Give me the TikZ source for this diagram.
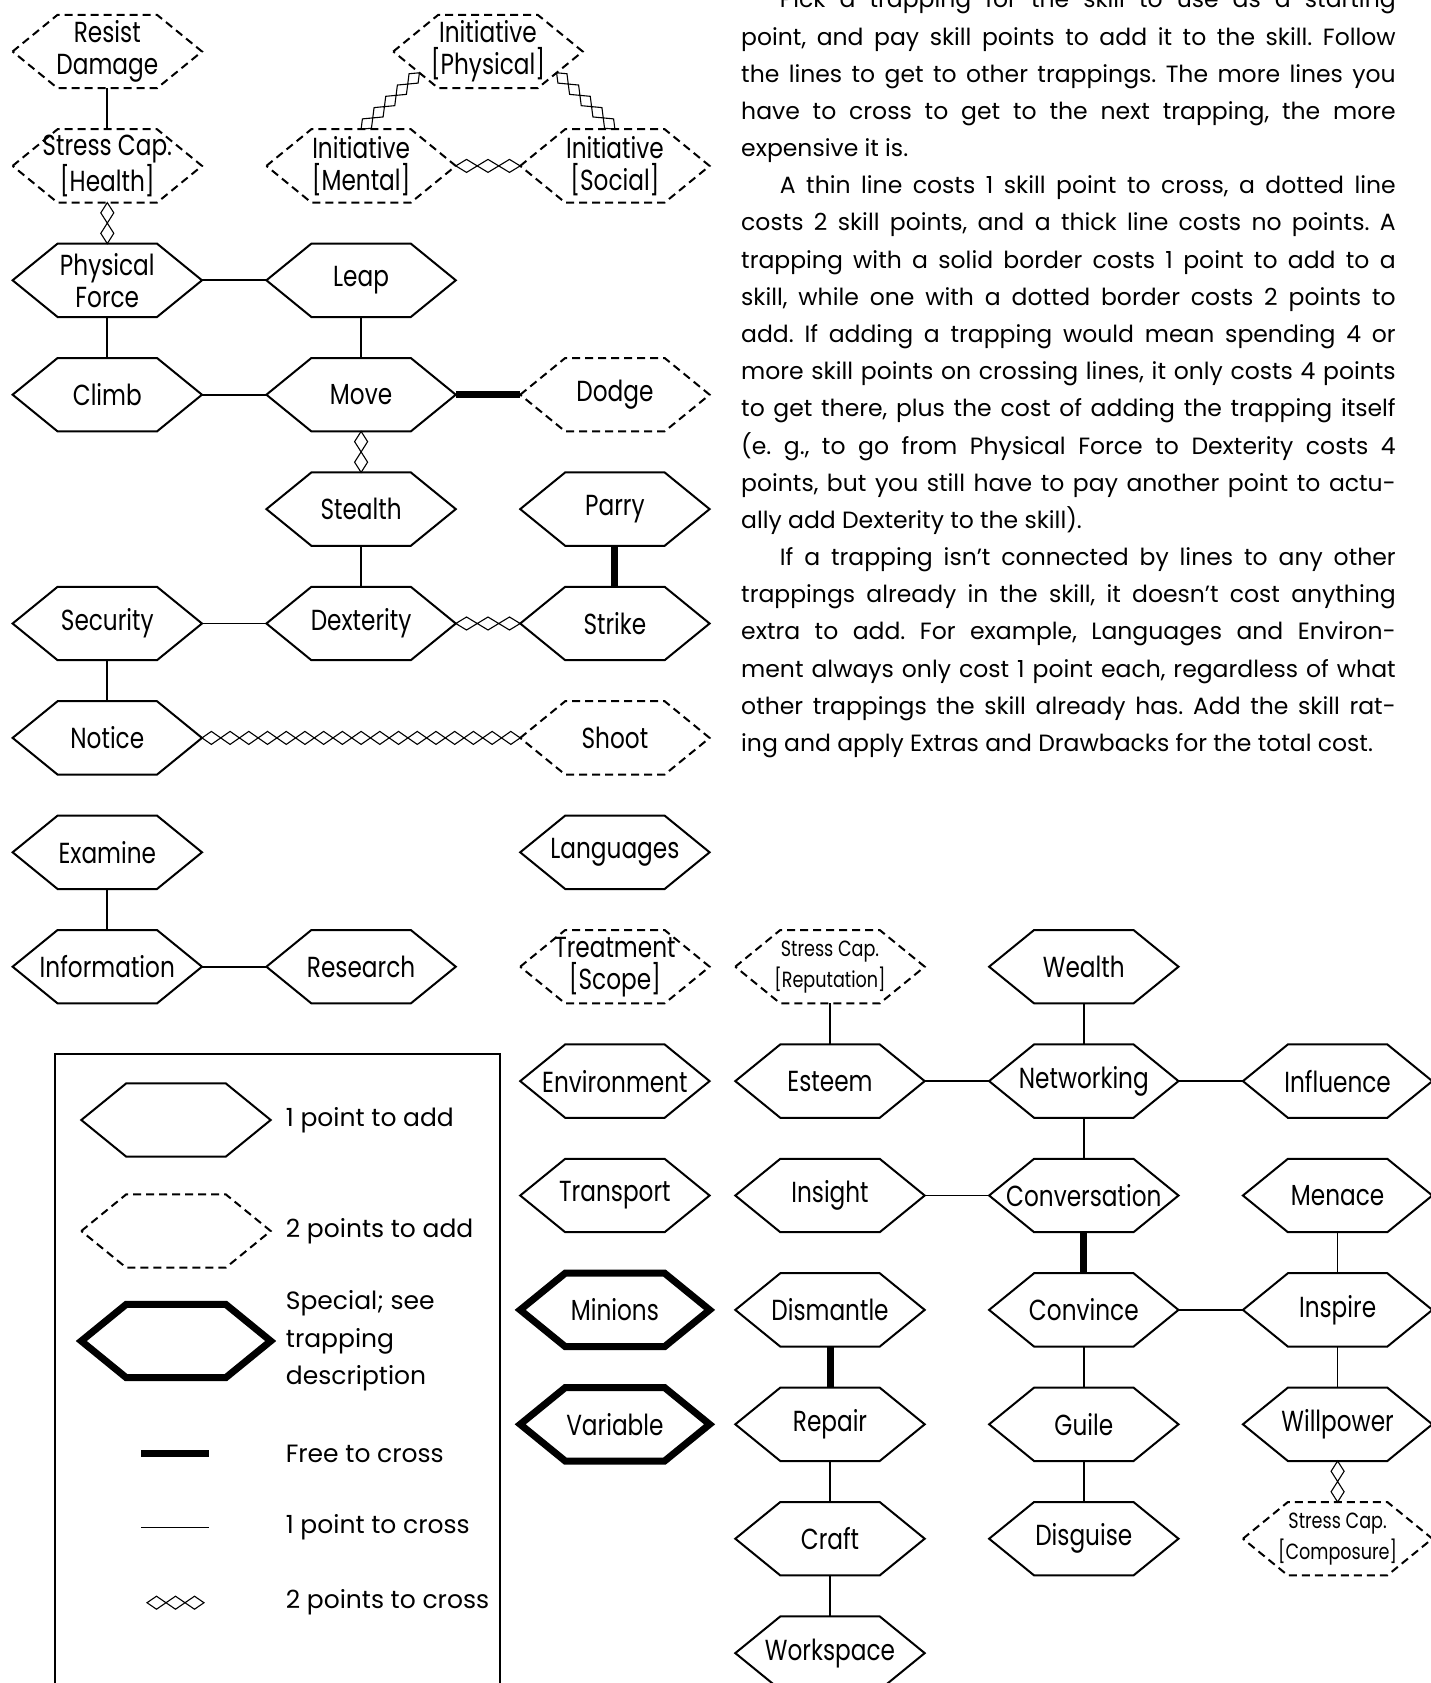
\documentclass[tikz,border=0pt]{standalone}
\usepackage{fontspec}
\setmainfont{Poppins}
\newfontfamily\trapfont[FakeStretch=0.8]{Poppins}
\usetikzlibrary{positioning,calc}
% chain of open diamonds: start, end, count
\newcommand{\dmdrun}[3]{%
  \foreach \k [evaluate=\k as \ka using (\k-1)/#3,
               evaluate=\k as \kb using \k/#3,
               evaluate=\k as \km using (\k-0.5)/#3] in {1,...,#3}{%
    \coordinate (dm) at ($#1!\km!#2$);
    \draw[dmd] ($#1!\ka!#2$) -- ($(dm)!6.5pt!90:#2$) -- ($#1!\kb!#2$)
      -- ($(dm)!6.5pt!-90:#2$) -- cycle;
  }}

\begin{document}
\begin{tikzpicture}[
  x=1pt, y=-1pt,
  node distance=41pt and 64.4pt,
  trap/.style={minimum width=189pt, minimum height=73pt, inner sep=0pt, align=center,
    font=\trapfont\fontsize{29}{32}\selectfont,
    append after command={\pgfextra{\draw[#1]
      (\tikzlastnode.west) -- ([xshift=45pt]\tikzlastnode.north west)
      -- ([xshift=-45pt]\tikzlastnode.north east) -- (\tikzlastnode.east)
      -- ([xshift=-45pt]\tikzlastnode.south east)
      -- ([xshift=45pt]\tikzlastnode.south west) -- cycle;}}},
  trap/.default=rimsolid,
  rimsolid/.style={line width=2pt},
  rimdash/.style={line width=2pt, dash pattern=on 8pt off 5pt},
  rimspecial/.style={line width=7pt},
  capsmall/.style={font=\trapfont\fontsize{22}{31}\selectfont},
  thinln/.style={line width=1.7pt},
  freeln/.style={line width=7pt},
  dmd/.style={line width=1.1pt, line join=miter},
  keyframe/.style={line width=2.5pt},
  keytext/.style={font=\fontsize{25}{37.6}\selectfont, inner sep=0pt, align=left},
  rulestext/.style={anchor=base west, text width=654.5pt, align=justify, inner sep=0pt,
    font=\fontsize{23.5}{37.18}\selectfont\frenchspacing}
]
\path[use as bounding box, fill=white] (0,0) rectangle (1431,1683);

% physical trappings
\node[trap=rimdash] (resist) at (107.3,51.5) {Resist\\Damage};
\node[trap=rimdash, below=of resist] (health) {Stress Cap.\\{}[Health]};
\node[trap, below=of health] (pforce) {Physical\\Force};
\node[trap, below=of pforce] (climb) {Climb};
\node[trap, right=of pforce] (leap) {Leap};
\node[trap, right=of climb] (move) {Move};
\node[trap=rimdash, right=of move] (dodge) {Dodge};
\node[trap, below=of move] (stealth) {Stealth};
\node[trap, right=of stealth] (parry) {Parry};
\node[trap, below=of stealth] (dext) {Dexterity};
\node[trap, right=of dext] (strike) {Strike};
\node[trap, left=of dext] (secur) {Security};
\node[trap, below=of secur] (notice) {Notice};
\node[trap=rimdash, below=of strike] (shoot) {Shoot};
\node[trap, below=of notice] (examine) {Examine};
\node[trap, below=of examine] (info) {Information};
\node[trap, right=of info] (research) {Research};

% initiative
\node[trap=rimdash, right=of health] (imental) {Initiative\\{}[Mental]};
\node[trap=rimdash, right=of imental] (isocial) {Initiative\\{}[Social]};
\coordinate (imid) at ($(imental.north)!0.5!(isocial.north)$);
\node[trap=rimdash, above=of imid] (iphys) {Initiative\\{}[Physical]};
\coordinate (iml) at ($(iphys.west)!0.58!([xshift=45pt]iphys.south west)$);
\coordinate (isr) at ($(iphys.east)!0.58!([xshift=-45pt]iphys.south east)$);

% loose trappings
\node[trap, below=of shoot] (lang) {Languages};
\node[trap=rimdash, below=of lang] (treat) {Treatment\\{}[Scope]};
\node[trap, below=of treat] (envir) {Environment};
\node[trap, below=of envir] (transp) {Transport};
\node[trap=rimspecial, below=of transp] (minions) {Minions};
\node[trap=rimspecial, below=of minions] (variable) {Variable};

% social and craft trappings
\node[trap, right=25.7pt of envir] (esteem) {Esteem};
\node[trap=rimdash, capsmall, above=of esteem] (repu) {Stress Cap.\\{}[Reputation]};
\node[trap, right=of esteem] (netw) {Networking};
\node[trap, above=of netw] (wealth) {Wealth};
\node[trap, right=of netw] (influ) {Influence};
\node[trap, below=of esteem] (insight) {Insight};
\node[trap, below=of netw] (conv) {Conversation};
\node[trap, below=of influ] (menace) {Menace};
\node[trap, below=of insight] (dism) {Dismantle};
\node[trap, below=of conv] (convince) {Convince};
\node[trap, below=of menace] (inspire) {Inspire};
\node[trap, below=of dism] (repair) {Repair};
\node[trap, below=of repair] (craft) {Craft};
\node[trap, below=of craft] (works) {Workspace};
\node[trap, below=of convince] (guile) {Guile};
\node[trap, below=of guile] (disguise) {Disguise};
\node[trap, below=of inspire] (willp) {Willpower};
\node[trap=rimdash, capsmall, below=of willp] (compo) {Stress Cap.\\{}[Composure]};

% connectors
\draw[thinln] (resist) -- (health);
\draw[thinln] (pforce) -- (leap);
\draw[thinln] (pforce) -- (climb);
\draw[thinln] (leap) -- (move);
\draw[thinln] (climb) -- (move);
\draw[freeln] (move) -- (dodge);
\draw[thinln] (stealth) -- (dext);
\draw[freeln] (parry) -- (strike);
\draw[thinln] (secur) -- (dext);
\draw[thinln] (secur) -- (notice);
\draw[thinln] (examine) -- (info);
\draw[thinln] (info) -- (research);
\draw[thinln] (repu) -- (esteem);
\draw[thinln] (wealth) -- (netw);
\draw[thinln] (esteem) -- (netw);
\draw[thinln] (netw) -- (influ);
\draw[thinln] (netw) -- (conv);
\draw[thinln] (insight) -- (conv);
\draw[freeln] (conv) -- (convince);
\draw[thinln] (menace) -- (inspire);
\draw[thinln] (convince) -- (inspire);
\draw[freeln] (dism) -- (repair);
\draw[thinln] (repair) -- (craft);
\draw[thinln] (craft) -- (works);
\draw[thinln] (convince) -- (guile);
\draw[thinln] (guile) -- (disguise);
\draw[thinln] (inspire) -- (willp);
\dmdrun{(health.south)}{(pforce.north)}{2}
\dmdrun{(move.south)}{(stealth.north)}{2}
\dmdrun{(dext.east)}{(strike.west)}{3}
\dmdrun{(notice.east)}{(shoot.west)}{17}
\dmdrun{(imental.east)}{(isocial.west)}{3}
\dmdrun{(imental.north)}{(iml)}{5}
\dmdrun{(isocial.north)}{(isr)}{5}
\dmdrun{(willp.south)}{(compo.north)}{2}

% key
\draw[keyframe] (55,1683) |- (500,1054) -- (500,1683);
\node[trap] (keyone) at (176,1120) {};
\node[keytext, right=15pt of keyone] (keyonetxt) {1 point to add};
\node[trap=rimdash] (keytwo) at (176,1231) {};
\node[keytext, right=15pt of keytwo] (keytwotxt) {2 points to add};
\node[trap=rimspecial] (keyspec) at (176,1341) {};
\node[keytext, right=15pt of keyspec] (keyspectxt) {Special; see\\trapping\\description};
\coordinate (keyfreea) at (141,1453.5);
\coordinate (keyfreeb) at (209,1453.5);
\draw[freeln] (keyfreea) -- (keyfreeb);
\node[keytext, anchor=west] (keyfreetxt) at (285.6,1453.5) {Free to cross};
\coordinate (keyonea) at (141,1527.6);
\coordinate (keyoneb) at (209,1527.6);
\draw[thinln] (keyonea) -- (keyoneb);
\node[keytext, anchor=west] (keyonelntxt) at (285.6,1527.6) {1 point to cross};
\coordinate (keytwoa) at (147,1602.7);
\coordinate (keytwob) at (204,1602.7);
\dmdrun{(keytwoa)}{(keytwob)}{3}
\node[keytext, anchor=west] (keytwolntxt) at (285.6,1602.7) {2 points to cross};

% rules text
\node[rulestext] (rules) at (741,7.9) {%
\hspace*{38.6pt}Pick a trapping for the skill to use as a starting\linebreak
point, and pay skill points to add it to the skill. Follow\linebreak
the lines to get to other trappings. The more lines you\linebreak
have to cross to get to the next trapping, the more\linebreak
expensive it is.\par
\hspace*{38.6pt}A thin line costs 1 skill point to cross, a dotted line\linebreak
costs 2 skill points, and a thick line costs no points. A\linebreak
trapping with a solid border costs 1 point to add to a\linebreak
skill, while one with a dotted border costs 2 points to\linebreak
add. If adding a trapping would mean spending 4 or\linebreak
more skill points on crossing lines, it only costs 4 points\linebreak
to get there, plus the cost of adding the trapping itself\linebreak
(e. g., to go from Physical Force to Dexterity costs 4\linebreak
points, but you still have to pay another point to actu-\linebreak
ally add Dexterity to the skill).\par
\hspace*{38.6pt}If a trapping isn’t connected by lines to any other\linebreak
trappings already in the skill, it doesn’t cost anything\linebreak
extra to add. For example, Languages and Environ-\linebreak
ment always only cost 1 point each, regardless of what\linebreak
other trappings the skill already has. Add the skill rat-\linebreak
ing and apply Extras and Drawbacks for the total cost.};
\end{tikzpicture}
\end{document}
